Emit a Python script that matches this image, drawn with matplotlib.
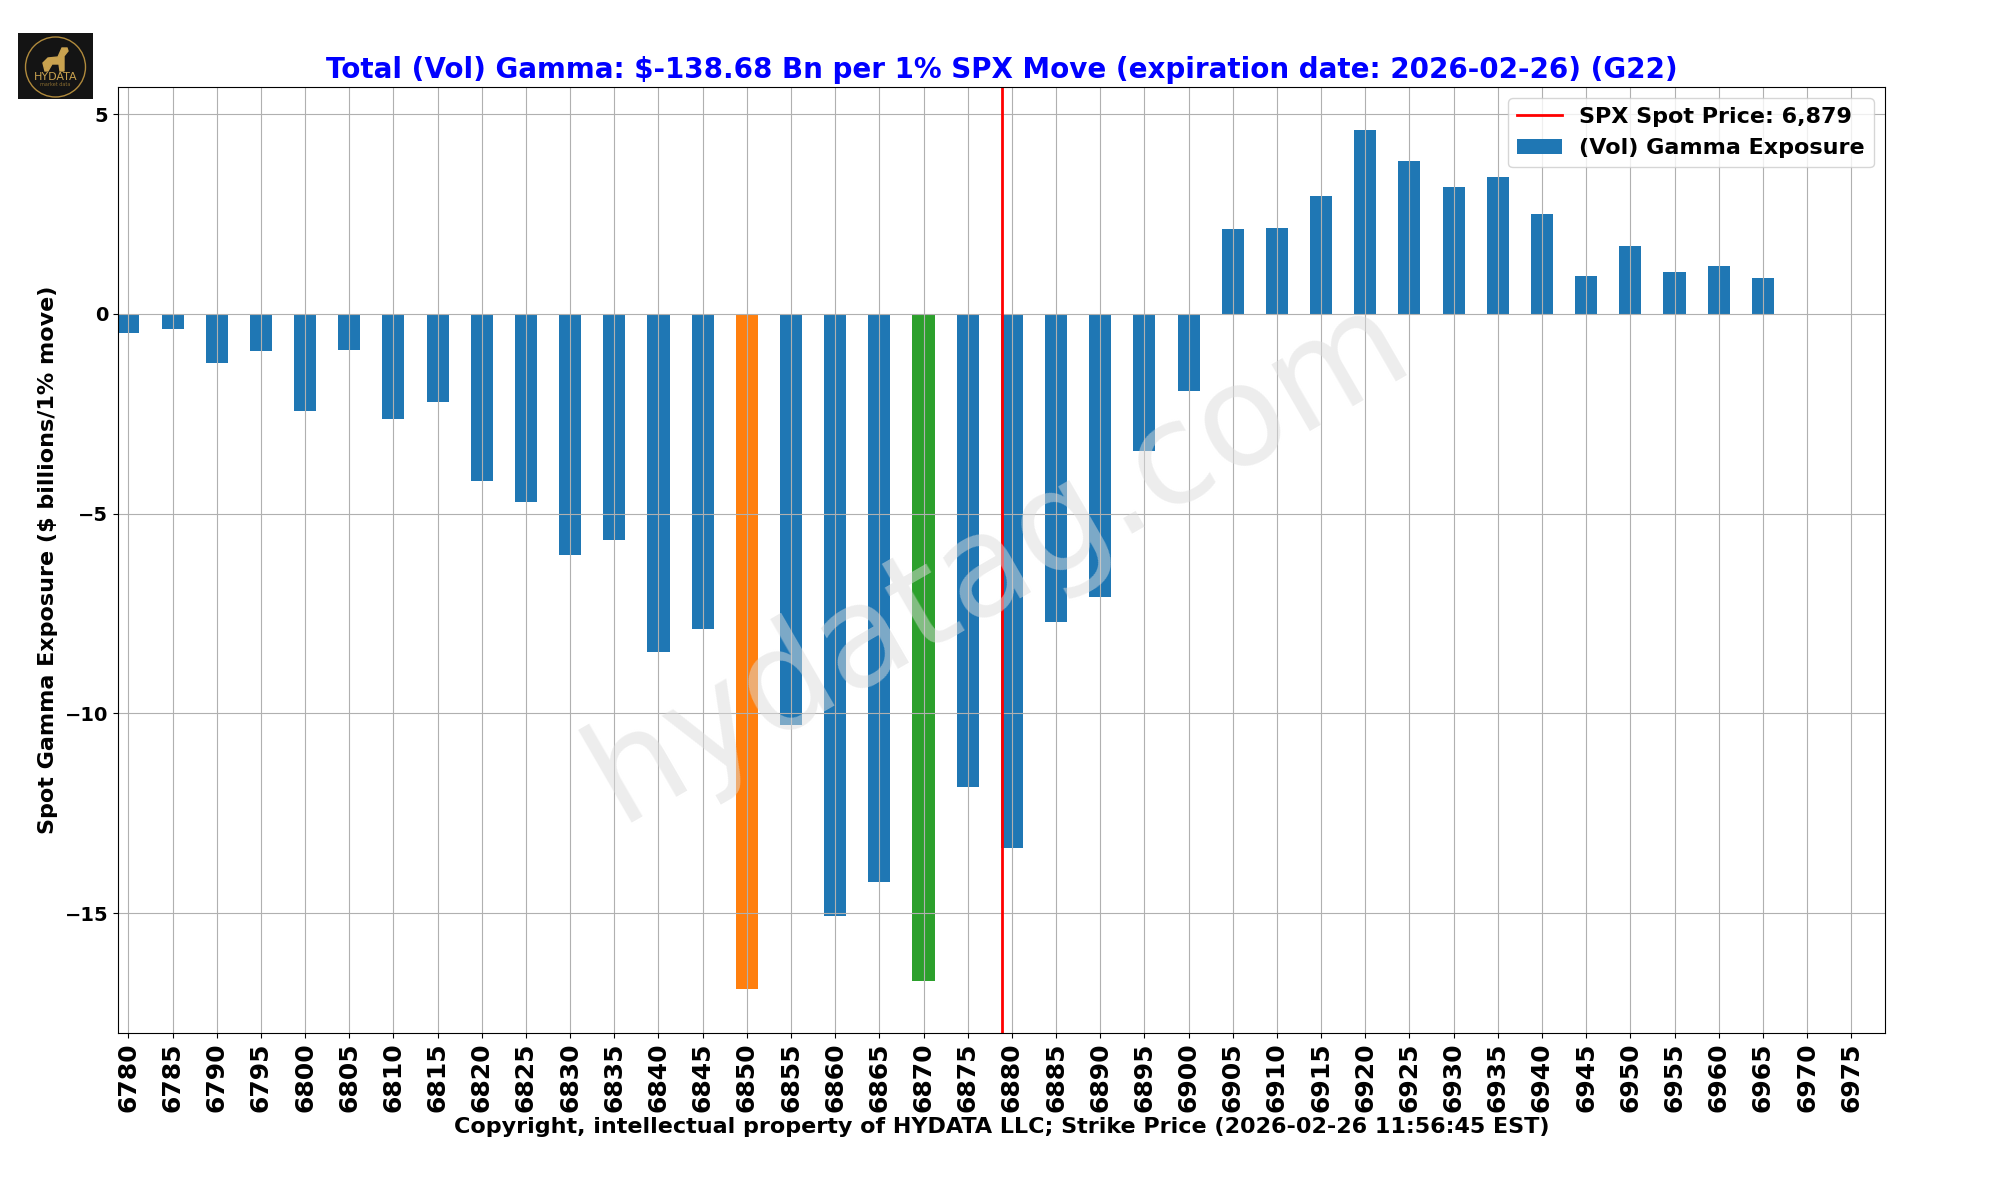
import matplotlib
matplotlib.use('Agg')
import matplotlib.pyplot as plt
import numpy as np

strikes = list(range(6780, 6980, 5))
gamma = [-0.49, -0.39, -1.22, -0.94, -2.42, -0.90, -2.63, -2.21, -4.18, -4.70,
         -6.03, -5.66, -8.46, -7.88, -16.90, -10.29, -15.08, -14.22, -16.71, -11.84,
         -13.36, -7.71, -7.09, -3.43, -1.94, 2.12, 2.15, 2.94, 4.61, 3.83,
         3.18, 3.43, 2.51, 0.96, 1.69, 1.05, 1.21, 0.91, 0.0, 0.0]
spot = 6878.9
orange_strike = 6850
green_strike = 6870

title = 'Total (Vol) Gamma: $-138.68 Bn per 1% SPX Move (expiration date: 2026-02-26) (G22)'
xlabel = 'Copyright, intellectual property of HYDATA LLC; Strike Price (2026-02-26 11:56:45 EST)'
ylabel = 'Spot Gamma Exposure ($ billions/1% move)'

fig = plt.figure(figsize=(20, 12), dpi=100)
ax = fig.add_axes([118 / 2000, 1 - 1033 / 1200, (1885 - 118) / 2000, (1033 - 87) / 1200])

index = np.arange(len(strikes))
colors = ['C0'] * len(strikes)
colors[strikes.index(orange_strike)] = 'C1'
colors[strikes.index(green_strike)] = 'C2'
ax.bar(index, gamma, 0.5, color=colors, label='(Vol) Gamma Exposure')

spot_pos = (spot - strikes[0]) / 5
ax.axvline(spot_pos, color='red', linewidth=2, label='SPX Spot Price: {:,.0f}'.format(spot))

ax.set_xlim(-0.235, 39.765)
ax.set_ylim(-18.0, 5.68)
ax.grid(True)
ax.set_yticks([-15, -10, -5, 0, 5])
ax.set_xticks(index)
ax.set_xticklabels(strikes, rotation=90, fontsize=18, fontweight='bold')
ax.tick_params(axis='y', labelsize=14)
for lab in ax.get_yticklabels():
    lab.set_fontweight('bold')

ax.set_title(title, color='blue', fontsize=20, fontweight='bold', pad=6.6)
fig.text(1002 / 2000, 1 - 1127 / 1200, xlabel, fontsize=16, fontweight='bold', ha='center', va='center')
fig.text(48 / 2000, 1 - 560 / 1200, ylabel, fontsize=16, fontweight='bold', rotation=90, ha='center', va='center')

ax.legend(loc='upper right', prop={'size': 16, 'weight': 'bold'})

# watermark
fig.text(0.499, 0.534, 'hydatag.com', fontsize=101, color='gainsboro', alpha=0.5, rotation=30,
         ha='center', va='center', zorder=10)

# logo
logo = fig.add_axes([18 / 2000, 1 - 99 / 1200, 75 / 2000, 66 / 1200])
logo.set_facecolor('#141414')
logo.set_xlim(0, 75)
logo.set_ylim(66, 0)
logo.set_xticks([])
logo.set_yticks([])
for s in logo.spines.values():
    s.set_visible(False)
logo.add_patch(plt.Circle((37.5, 34), 30, fill=False, edgecolor='#b08a3c', linewidth=1))
logo.text(37.5, 44, 'HYDATA', color='#c9a24f', fontsize=8, ha='center', va='center')
logo.text(37.5, 51, 'market data', color='#8a6d30', fontsize=3.5, ha='center', va='center')
logo.fill([25, 30, 40, 44, 49, 50, 46, 46, 42, 41, 34, 30, 27], [30, 25, 24, 15, 15, 18, 23, 38, 38, 31, 31, 38, 38], color='#c9a24f')

plt.savefig('out.png')
plt.close()
